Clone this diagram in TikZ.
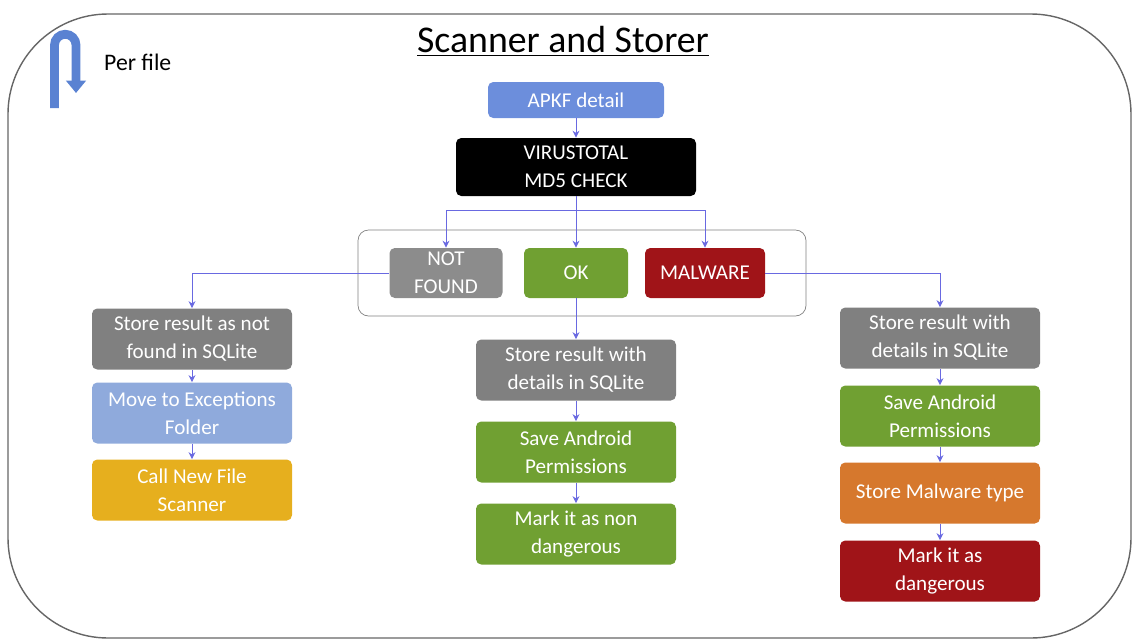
\documentclass[tikz,border=0pt]{standalone}
\usepackage{fontspec}
\setmainfont{Carlito}
\usepackage{tikz}
\usetikzlibrary{arrows.meta}
\usepackage{xcolor}
\definecolor{boxgray}{RGB}{128,128,128}
\definecolor{boxlgray}{RGB}{140,140,140}
\definecolor{boxgreen}{RGB}{112,160,50}
\definecolor{boxred}{RGB}{160,20,24}
\definecolor{boxblue}{RGB}{108,142,220}
\definecolor{boxlight}{RGB}{143,170,220}
\definecolor{boxgold}{RGB}{230,175,30}
\definecolor{boxorange}{RGB}{214,120,45}
\definecolor{linkblue}{RGB}{105,105,225}
\definecolor{iconblue}{RGB}{90,130,210}
\tikzset{
  stepbox/.style={rectangle, rounded corners=3pt, fill=#1, text=white, align=center,
    minimum width=4cm, minimum height=1.22cm, inner sep=2pt,
    font=\fontsize{12}{16}\selectfont},
  link/.style={draw=linkblue, line width=0.5pt, -{Stealth[length=4pt,width=4pt]}},
}

\begin{document}
\begin{tikzpicture}
  \useasboundingbox (0,0) rectangle (22.68,-12.84);
  \draw[gray!80!black, line width=0.8pt, rounded corners=2cm] (0.16,-0.28) rectangle (22.62,-12.76);
  % title and per file mark
  \node[font=\fontsize{21.5}{24}\selectfont] (title) at (11.26,-0.82) {\underline{Scanner and Storer}};
  \draw[line width=5pt, iconblue, -{Triangle[length=7pt,width=11pt]}] (1.09,-2.16) -- (1.09,-0.9) arc (180:0:0.215) -- (1.52,-1.86);
  \node[anchor=west, font=\fontsize{13.5}{16}\selectfont] (perfile) at (1.96,-1.24) {Per file};
  % top of the chain
  \node[stepbox=boxblue, minimum width=3.52cm, minimum height=0.72cm] (apkf) at (11.52,-2.00) {APKF detail};
  \node[stepbox=black, minimum width=4.8cm, minimum height=1.16cm] (vt) at (11.52,-3.34) {VIRUSTOTAL\\MD5 CHECK};
  \node[draw=gray, rounded corners=6pt, minimum width=8.96cm, minimum height=1.72cm] (group) at (11.64,-5.46) {};
  \node[stepbox=boxlgray, minimum width=2.26cm, minimum height=1cm] (nf) at (8.92,-5.46) {NOT\\FOUND};
  \node[stepbox=boxgreen, minimum width=2.08cm, minimum height=1cm] (ok) at (11.52,-5.46) {OK};
  \node[stepbox=boxred, minimum width=2.4cm, minimum height=1cm] (mal) at (14.10,-5.46) {MALWARE};
  \coordinate (split) at (11.52,-4.20);
  % not found
  \node[stepbox=boxgray] (lstore) at (3.84,-6.78) {Store result as not\\found in SQLite};
  \node[stepbox=boxlight] (lmove) at (3.84,-8.26) {Move to Exceptions\\Folder};
  \node[stepbox=boxgold] (lcall) at (3.84,-9.80) {Call New File\\Scanner};
  % ok
  \node[stepbox=boxgray] (mstore) at (11.52,-7.40) {Store result with\\details in SQLite};
  \node[stepbox=boxgreen] (mperm) at (11.52,-9.04) {Save Android\\Permissions};
  \node[stepbox=boxgreen] (mmark) at (11.52,-10.68) {Mark it as non\\dangerous};
  % malware
  \node[stepbox=boxgray] (rstore) at (18.80,-6.76) {Store result with\\details in SQLite};
  \node[stepbox=boxgreen] (rperm) at (18.80,-8.32) {Save Android\\Permissions};
  \node[stepbox=boxorange] (rtype) at (18.80,-9.86) {Store Malware type};
  \node[stepbox=boxred] (rmark) at (18.80,-11.42) {Mark it as\\dangerous};
  % connectors
  \draw[link] (apkf) -- (vt);
  \draw[link] (vt) -- (ok);
  \draw[link] (split) -| (nf.north);
  \draw[link] (split) -| (mal.north);
  \draw[link] (nf.west) -| (lstore.north);
  \draw[link] (mal.east) -| (rstore.north);
  \draw[link] (ok) -- (mstore);
  \draw[link] (lstore) -- (lmove);
  \draw[link] (lmove) -- (lcall);
  \draw[link] (mstore) -- (mperm);
  \draw[link] (mperm) -- (mmark);
  \draw[link] (rstore) -- (rperm);
  \draw[link] (rperm) -- (rtype);
  \draw[link] (rtype) -- (rmark);
\end{tikzpicture}
\end{document}
